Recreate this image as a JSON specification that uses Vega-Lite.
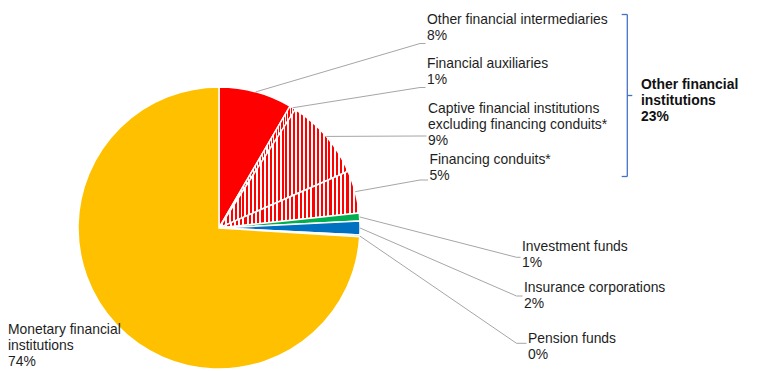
{
  "$schema": "https://vega.github.io/schema/vega-lite/v6.json",
  "width": 779,
  "height": 371,
  "autosize": {"type": "none"},
  "padding": 0,
  "background": "white",
  "config": {"view": {"stroke": null}},
  "datasets": {
    "sectors": [
      {"sector": "Other financial intermediaries", "share": 8.4, "order": 1, "label": "Other financial intermediaries\n8%", "lx": 427, "ly": 24, "ex": 420, "ey": 43.5},
      {"sector": "Financial auxiliaries", "share": 0.7, "order": 2, "label": "Financial auxiliaries\n1%", "lx": 427, "ly": 67.5, "ex": 420, "ey": 87.5},
      {"sector": "Captive financial institutions excluding financing conduits", "share": 9.3, "order": 3, "label": "Captive financial institutions\nexcluding financing conduits*\n9%", "lx": 428, "ly": 112.5, "ex": 420, "ey": 136},
      {"sector": "Financing conduits", "share": 4.9, "order": 4, "label": "Financing conduits*\n5%", "lx": 429.5, "ly": 163.5, "ex": 420, "ey": 180},
      {"sector": "Investment funds", "share": 0.9, "order": 5, "label": "Investment funds\n1%", "lx": 522, "ly": 251, "ex": 516.5, "ey": 257.3},
      {"sector": "Insurance corporations", "share": 1.6, "order": 6, "label": "Insurance corporations\n2%", "lx": 524, "ly": 292, "ex": 516.5, "ey": 296},
      {"sector": "Pension funds", "share": 0.2, "order": 7, "label": "Pension funds\n0%", "lx": 528, "ly": 343, "ex": 516.5, "ey": 343.3},
      {"sector": "Monetary financial institutions", "share": 74.0, "order": 8, "label": "Monetary financial\ninstitutions\n74%", "lx": 8, "ly": 333.5}
    ],
    "bracket": [
      {"x": 621.7, "y": 14.5, "x2": 627.3, "y2": 14.5},
      {"x": 627.3, "y": 14.5, "x2": 627.3, "y2": 176.5},
      {"x": 621.7, "y": 176.5, "x2": 627.3, "y2": 176.5},
      {"x": 627.3, "y": 95.5, "x2": 632.3, "y2": 95.5}
    ]
  },
  "layer": [
    {
      "data": {"name": "sectors"},
      "mark": {"type": "arc", "radius": 141, "stroke": "#FFFFFF", "strokeWidth": 1.5},
      "encoding": {
        "theta": {"field": "share", "type": "quantitative", "stack": true},
        "order": {"field": "order", "type": "quantitative"},
        "x": {"datum": 219, "type": "quantitative", "scale": {"domain": [0, 779], "nice": false, "zero": false}, "axis": null},
        "y": {"datum": 228, "type": "quantitative", "scale": {"domain": [0, 371], "nice": false, "zero": false, "reverse": true}, "axis": null},
        "fill": {
          "field": "sector",
          "type": "nominal",
          "legend": null,
          "scale": {
            "domain": ["Other financial intermediaries", "Financial auxiliaries", "Captive financial institutions excluding financing conduits", "Financing conduits", "Investment funds", "Insurance corporations", "Pension funds", "Monetary financial institutions"],
            "range": ["#FF0000", "#FFFFFF", "#FFFFFF", "#FFFFFF", "#00B050", "#0070C0", "#A5A5A5", "#FFC000"]
          },
          "condition": {
            "test": "datum.order >= 2 && datum.order <= 4",
            "value": {
              "gradient": "linear", "x1": 0, "y1": 0, "x2": 1, "y2": 0,
              "stops": [
                {"offset": 0, "color": "#FF0000"}, {"offset": 0.0152, "color": "#FF0000"}, {"offset": 0.0152, "color": "#FFFFFF"}, {"offset": 0.0303, "color": "#FFFFFF"},
                {"offset": 0.0303, "color": "#FF0000"}, {"offset": 0.0455, "color": "#FF0000"}, {"offset": 0.0455, "color": "#FFFFFF"}, {"offset": 0.0606, "color": "#FFFFFF"},
                {"offset": 0.0606, "color": "#FF0000"}, {"offset": 0.0758, "color": "#FF0000"}, {"offset": 0.0758, "color": "#FFFFFF"}, {"offset": 0.0909, "color": "#FFFFFF"},
                {"offset": 0.0909, "color": "#FF0000"}, {"offset": 0.1061, "color": "#FF0000"}, {"offset": 0.1061, "color": "#FFFFFF"}, {"offset": 0.1212, "color": "#FFFFFF"},
                {"offset": 0.1212, "color": "#FF0000"}, {"offset": 0.1364, "color": "#FF0000"}, {"offset": 0.1364, "color": "#FFFFFF"}, {"offset": 0.1515, "color": "#FFFFFF"},
                {"offset": 0.1515, "color": "#FF0000"}, {"offset": 0.1667, "color": "#FF0000"}, {"offset": 0.1667, "color": "#FFFFFF"}, {"offset": 0.1818, "color": "#FFFFFF"},
                {"offset": 0.1818, "color": "#FF0000"}, {"offset": 0.1970, "color": "#FF0000"}, {"offset": 0.1970, "color": "#FFFFFF"}, {"offset": 0.2121, "color": "#FFFFFF"},
                {"offset": 0.2121, "color": "#FF0000"}, {"offset": 0.2273, "color": "#FF0000"}, {"offset": 0.2273, "color": "#FFFFFF"}, {"offset": 0.2424, "color": "#FFFFFF"},
                {"offset": 0.2424, "color": "#FF0000"}, {"offset": 0.2576, "color": "#FF0000"}, {"offset": 0.2576, "color": "#FFFFFF"}, {"offset": 0.2727, "color": "#FFFFFF"},
                {"offset": 0.2727, "color": "#FF0000"}, {"offset": 0.2879, "color": "#FF0000"}, {"offset": 0.2879, "color": "#FFFFFF"}, {"offset": 0.3030, "color": "#FFFFFF"},
                {"offset": 0.3030, "color": "#FF0000"}, {"offset": 0.3182, "color": "#FF0000"}, {"offset": 0.3182, "color": "#FFFFFF"}, {"offset": 0.3333, "color": "#FFFFFF"},
                {"offset": 0.3333, "color": "#FF0000"}, {"offset": 0.3485, "color": "#FF0000"}, {"offset": 0.3485, "color": "#FFFFFF"}, {"offset": 0.3636, "color": "#FFFFFF"},
                {"offset": 0.3636, "color": "#FF0000"}, {"offset": 0.3788, "color": "#FF0000"}, {"offset": 0.3788, "color": "#FFFFFF"}, {"offset": 0.3939, "color": "#FFFFFF"},
                {"offset": 0.3939, "color": "#FF0000"}, {"offset": 0.4091, "color": "#FF0000"}, {"offset": 0.4091, "color": "#FFFFFF"}, {"offset": 0.4242, "color": "#FFFFFF"},
                {"offset": 0.4242, "color": "#FF0000"}, {"offset": 0.4394, "color": "#FF0000"}, {"offset": 0.4394, "color": "#FFFFFF"}, {"offset": 0.4545, "color": "#FFFFFF"},
                {"offset": 0.4545, "color": "#FF0000"}, {"offset": 0.4697, "color": "#FF0000"}, {"offset": 0.4697, "color": "#FFFFFF"}, {"offset": 0.4848, "color": "#FFFFFF"},
                {"offset": 0.4848, "color": "#FF0000"}, {"offset": 0.5000, "color": "#FF0000"}, {"offset": 0.5000, "color": "#FFFFFF"}, {"offset": 0.5152, "color": "#FFFFFF"},
                {"offset": 0.5152, "color": "#FF0000"}, {"offset": 0.5303, "color": "#FF0000"}, {"offset": 0.5303, "color": "#FFFFFF"}, {"offset": 0.5455, "color": "#FFFFFF"},
                {"offset": 0.5455, "color": "#FF0000"}, {"offset": 0.5606, "color": "#FF0000"}, {"offset": 0.5606, "color": "#FFFFFF"}, {"offset": 0.5758, "color": "#FFFFFF"},
                {"offset": 0.5758, "color": "#FF0000"}, {"offset": 0.5909, "color": "#FF0000"}, {"offset": 0.5909, "color": "#FFFFFF"}, {"offset": 0.6061, "color": "#FFFFFF"},
                {"offset": 0.6061, "color": "#FF0000"}, {"offset": 0.6212, "color": "#FF0000"}, {"offset": 0.6212, "color": "#FFFFFF"}, {"offset": 0.6364, "color": "#FFFFFF"},
                {"offset": 0.6364, "color": "#FF0000"}, {"offset": 0.6515, "color": "#FF0000"}, {"offset": 0.6515, "color": "#FFFFFF"}, {"offset": 0.6667, "color": "#FFFFFF"},
                {"offset": 0.6667, "color": "#FF0000"}, {"offset": 0.6818, "color": "#FF0000"}, {"offset": 0.6818, "color": "#FFFFFF"}, {"offset": 0.6970, "color": "#FFFFFF"},
                {"offset": 0.6970, "color": "#FF0000"}, {"offset": 0.7121, "color": "#FF0000"}, {"offset": 0.7121, "color": "#FFFFFF"}, {"offset": 0.7273, "color": "#FFFFFF"},
                {"offset": 0.7273, "color": "#FF0000"}, {"offset": 0.7424, "color": "#FF0000"}, {"offset": 0.7424, "color": "#FFFFFF"}, {"offset": 0.7576, "color": "#FFFFFF"},
                {"offset": 0.7576, "color": "#FF0000"}, {"offset": 0.7727, "color": "#FF0000"}, {"offset": 0.7727, "color": "#FFFFFF"}, {"offset": 0.7879, "color": "#FFFFFF"},
                {"offset": 0.7879, "color": "#FF0000"}, {"offset": 0.8030, "color": "#FF0000"}, {"offset": 0.8030, "color": "#FFFFFF"}, {"offset": 0.8182, "color": "#FFFFFF"},
                {"offset": 0.8182, "color": "#FF0000"}, {"offset": 0.8333, "color": "#FF0000"}, {"offset": 0.8333, "color": "#FFFFFF"}, {"offset": 0.8485, "color": "#FFFFFF"},
                {"offset": 0.8485, "color": "#FF0000"}, {"offset": 0.8636, "color": "#FF0000"}, {"offset": 0.8636, "color": "#FFFFFF"}, {"offset": 0.8788, "color": "#FFFFFF"},
                {"offset": 0.8788, "color": "#FF0000"}, {"offset": 0.8939, "color": "#FF0000"}, {"offset": 0.8939, "color": "#FFFFFF"}, {"offset": 0.9091, "color": "#FFFFFF"},
                {"offset": 0.9091, "color": "#FF0000"}, {"offset": 0.9242, "color": "#FF0000"}, {"offset": 0.9242, "color": "#FFFFFF"}, {"offset": 0.9394, "color": "#FFFFFF"},
                {"offset": 0.9394, "color": "#FF0000"}, {"offset": 0.9545, "color": "#FF0000"}, {"offset": 0.9545, "color": "#FFFFFF"}, {"offset": 0.9697, "color": "#FFFFFF"},
                {"offset": 0.9697, "color": "#FF0000"}, {"offset": 0.9848, "color": "#FF0000"}, {"offset": 0.9848, "color": "#FFFFFF"}, {"offset": 1, "color": "#FFFFFF"}
              ]
            }
          }
        }
      }
    },
    {
      "data": {"name": "sectors"},
      "transform": [
        {"stack": "share", "sort": [{"field": "order", "order": "ascending"}], "groupby": [], "as": ["s0", "s1"]},
        {"filter": "isValid(datum.ex)"},
        {"calculate": "PI * (datum.s0 + datum.s1) / 100", "as": "mid"},
        {"calculate": "219 + 141 * sin(datum.mid)", "as": "sx"},
        {"calculate": "228 - 141 * cos(datum.mid)", "as": "sy"}
      ],
      "mark": {"type": "rule", "color": "#A6A6A6", "strokeWidth": 1},
      "encoding": {
        "x": {"field": "sx", "type": "quantitative"},
        "y": {"field": "sy", "type": "quantitative"},
        "x2": {"field": "ex"},
        "y2": {"field": "ey"}
      }
    },
    {
      "data": {"name": "sectors"},
      "transform": [
        {"filter": "isValid(datum.ex)"},
        {"calculate": "datum.lx - 1.5", "as": "tx"}
      ],
      "mark": {"type": "rule", "color": "#A6A6A6", "strokeWidth": 1},
      "encoding": {
        "x": {"field": "ex", "type": "quantitative"},
        "y": {"field": "ey", "type": "quantitative"},
        "x2": {"field": "tx"},
        "y2": {"field": "ey"}
      }
    },
    {
      "data": {"name": "sectors"},
      "mark": {"type": "text", "align": "left", "baseline": "alphabetic", "lineBreak": "\n", "lineHeight": 16, "font": "Liberation Sans", "fontSize": 13.9, "color": "#1E1E1E"},
      "encoding": {
        "x": {"field": "lx", "type": "quantitative"},
        "y": {"field": "ly", "type": "quantitative"},
        "text": {"field": "label", "type": "nominal"}
      }
    },
    {
      "data": {"name": "bracket"},
      "mark": {"type": "rule", "color": "#4472C4", "strokeWidth": 1.3},
      "encoding": {
        "x": {"field": "x", "type": "quantitative"},
        "y": {"field": "y", "type": "quantitative"},
        "x2": {"field": "x2"},
        "y2": {"field": "y2"}
      }
    },
    {
      "data": {"values": [{"label": "Other financial\ninstitutions\n23%"}]},
      "mark": {"type": "text", "align": "left", "baseline": "alphabetic", "lineBreak": "\n", "lineHeight": 16, "font": "Liberation Sans", "fontSize": 13.9, "fontWeight": "bold", "color": "#111111"},
      "encoding": {
        "x": {"datum": 641, "type": "quantitative"},
        "y": {"datum": 88.5, "type": "quantitative"},
        "text": {"field": "label", "type": "nominal"}
      }
    }
  ]
}
